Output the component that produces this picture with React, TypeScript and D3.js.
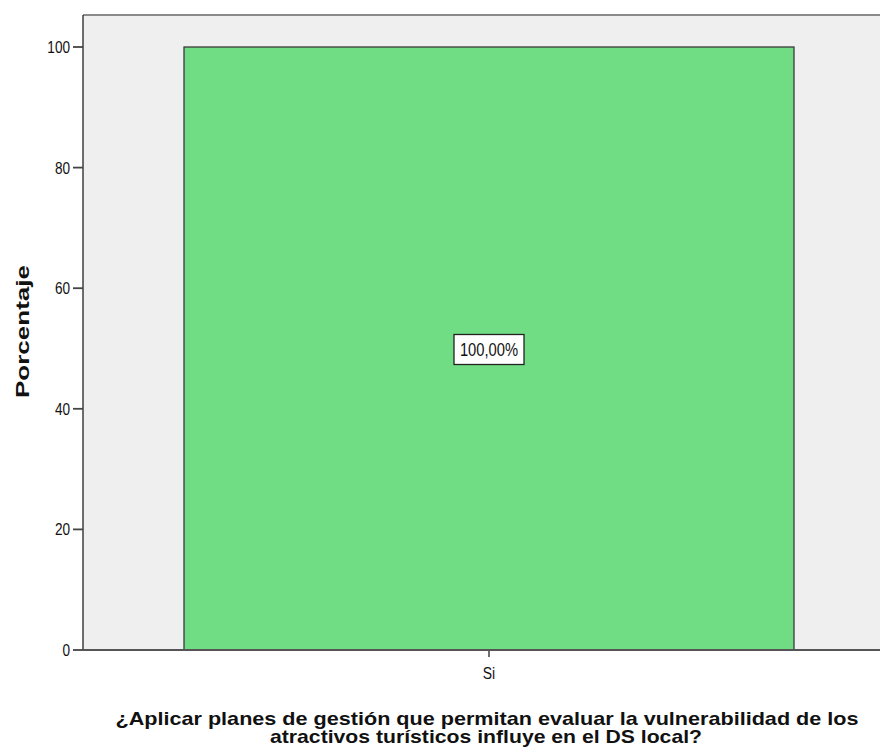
import React from "react";
import * as d3 from "d3";

const categories = ["Si"];
const values = [100];
const valueLabels = ["100,00%"];
const yTicks = [0, 20, 40, 60, 80, 100];
const yTitle = "Porcentaje";
const xTitleLines = [
  "¿Aplicar planes de gestión que permitan evaluar la vulnerabilidad de los",
  "atractivos turísticos influye en el DS local?",
];

export default function App() {
  const W = 880, H = 753;
  const left = 83, top = 15, right = 880, bottom = 650;
  const y = d3.scaleLinear().domain([0, 100]).range([bottom, 47]);
  const xb = d3.scaleBand().domain(categories).range([184, 794]);
  const font = "'Liberation Sans', Arial, sans-serif";
  const titleLens = [743, 432];
  return (
    <svg width={W} height={H} style={{ position: "absolute", left: 0, top: 0, background: "#fff" }}>
      <rect x={left} y={top} width={right - left} height={bottom - top} fill="#EFEFEF" />
      <line x1={left} x2={right} y1={top} y2={top} stroke="#8a8a8a" strokeWidth={2} />
      {categories.map((c, i) => {
        const cx = xb(c)! + xb.bandwidth() / 2;
        return (
          <g key={c}>
            <rect x={xb(c)!} y={y(values[i])} width={xb.bandwidth()} height={bottom - y(values[i])}
              fill="#70DC84" stroke="#3a3a3a" strokeWidth={1.3} />
            <rect x={cx - 35} y={y(values[i] / 2) - 14} width={70} height={30}
              fill="#fff" stroke="#222" strokeWidth={1.3} />
            <text transform={`translate(${cx},${y(values[i] / 2) + 7}) scale(0.82,1)`} textAnchor="middle"
              fontFamily={font} fontSize={18} fill="#111">{valueLabels[i]}</text>
            <line x1={cx} x2={cx} y1={bottom} y2={bottom + 7} stroke="#222" strokeWidth={1.3} />
            <text transform={`translate(${cx},679) scale(0.82,1)`} textAnchor="middle" fontFamily={font} fontSize={17} fill="#111">{c}</text>
          </g>
        );
      })}
      <line x1={left} x2={left} y1={top} y2={bottom} stroke="#222" strokeWidth={1.3} />
      <line x1={left} x2={right} y1={bottom} y2={bottom} stroke="#555" strokeWidth={2} />
      {yTicks.map((t) => (
        <g key={t}>
          <line x1={73} x2={left} y1={y(t)} y2={y(t)} stroke="#444" strokeWidth={1.8} />
          <text transform={`translate(70,${y(t) + 6}) scale(0.8,1)`} textAnchor="end" fontFamily={font} fontSize={17} fill="#111">{t}</text>
        </g>
      ))}
      <text transform={`translate(29,${(265 + 398) / 2}) rotate(-90)`} textAnchor="middle"
        fontFamily={font} fontWeight="bold" fontSize={19} fill="#111"
        textLength={133} lengthAdjust="spacingAndGlyphs">{yTitle}</text>
      {xTitleLines.map((l, i) => (
        <text key={i} x={490 - (i === 0 ? 3 : 4)} y={725 + i * 18} textAnchor="middle" fontFamily={font} fontWeight="bold" fontSize={19} fill="#111"
          textLength={titleLens[i]} lengthAdjust="spacingAndGlyphs">{l}</text>
      ))}
    </svg>
  );
}
